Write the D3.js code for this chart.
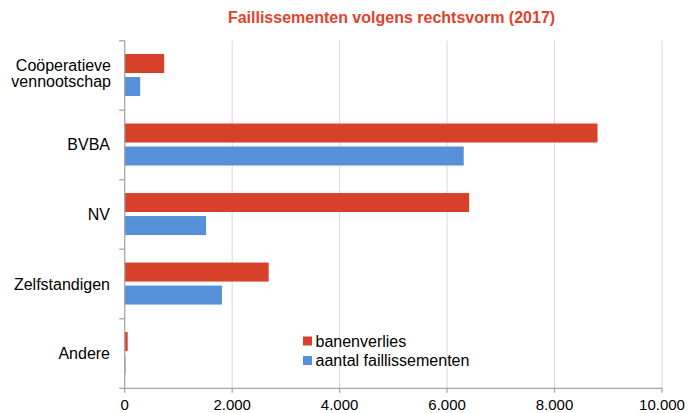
<!DOCTYPE html>
<html>
<head>
<meta charset="utf-8">
<script src="https://cdn.jsdelivr.net/npm/d3@7"></script>
<style>
  body { margin: 0; background: #fff; }
  svg { font-family: "Liberation Sans", Arial, sans-serif; }
</style>
</head>
<body>
<svg id="chart" width="689" height="413"></svg>
<script>
// data
const categories = ['Coöperatieve vennootschap', 'BVBA', 'NV', 'Zelfstandigen', 'Andere'];
const series = ['banenverlies', 'aantal faillissementen'];
const banenverlies = [735, 8800, 6410, 2680, 55];
const aantalFaillissementen = [288, 6310, 1515, 1810, 15];
const xTicks = [0, 2000, 4000, 6000, 8000, 10000];

const colors = { 'banenverlies': '#d84129', 'aantal faillissementen': '#5590d8' };
const plotLeft = 124.7, plotRight = 662, plotTop = 40.7, plotBottom = 388.3;

const nl = d3.formatLocale({ decimal: ',', thousands: '.', grouping: [3], currency: ['€', ''] });
const fmt = nl.format(',d');

const svg = d3.select('#chart');

const x = d3.scaleLinear().domain([0, 10000]).range([plotLeft, plotRight]);
const y0 = d3.scaleBand().domain(categories).range([plotTop, plotBottom]);
const y1 = d3.scaleBand().domain(series).range([13.3, 55.3]).paddingInner(0.174);

const rows = categories.map((c, i) => ({
    cat: c,
    vals: [
        { s: series[0], v: banenverlies[i] },
        { s: series[1], v: aantalFaillissementen[i] }
    ]
}));

// gridlines
svg.append('g').selectAll('line').data(xTicks.filter(d => d > 0)).enter().append('line')
    .attr('x1', d => x(d)).attr('x2', d => x(d))
    .attr('y1', plotTop).attr('y2', plotBottom)
    .attr('stroke', '#d9d9d9').attr('stroke-width', 1);

// bars
const g = svg.append('g').selectAll('g').data(rows).enter().append('g')
    .attr('transform', d => `translate(0,${y0(d.cat)})`);
g.selectAll('rect').data(d => d.vals).enter().append('rect')
    .attr('x', x(0))
    .attr('y', d => y1(d.s))
    .attr('width', d => x(d.v) - x(0))
    .attr('height', y1.bandwidth())
    .attr('fill', d => colors[d.s]);

// axes
const axisColor = '#a6a6a6';
svg.append('line')
    .attr('x1', plotLeft).attr('x2', plotLeft).attr('y1', plotTop).attr('y2', plotBottom)
    .attr('stroke', axisColor).attr('stroke-width', 1.3);
svg.append('line')
    .attr('x1', plotLeft).attr('x2', plotRight).attr('y1', plotBottom).attr('y2', plotBottom)
    .attr('stroke', axisColor).attr('stroke-width', 1.3);

// category boundary ticks
const bounds = categories.map(c => y0(c)).concat([y0.range()[1]]);
svg.append('g').selectAll('line').data(bounds).enter().append('line')
    .attr('x1', plotLeft - 5.5).attr('x2', plotLeft)
    .attr('y1', d => d).attr('y2', d => d)
    .attr('stroke', axisColor).attr('stroke-width', 1.3);

// x ticks
svg.append('g').selectAll('line').data(xTicks).enter().append('line')
    .attr('x1', d => x(d)).attr('x2', d => x(d))
    .attr('y1', plotBottom).attr('y2', plotBottom + 4.5)
    .attr('stroke', axisColor).attr('stroke-width', 1.3);
svg.append('g').selectAll('text').data(xTicks).enter().append('text')
    .attr('x', d => x(d)).attr('y', 409.5)
    .attr('text-anchor', 'middle').attr('font-size', '15px').attr('fill', '#000')
    .text(d => fmt(d));

// category labels
const labels = svg.append('g').selectAll('text').data(categories).enter().append('text')
    .attr('text-anchor', 'end').attr('font-size', '16px').attr('fill', '#000')
    .attr('x', 110)
    .attr('y', d => y0(d) + y0.bandwidth() / 2 + 5.5);
labels.each(function (d) {
    const words = d.split(' ');
    const t = d3.select(this);
    if (words.length > 1) {
        const cy = y0(d) + y0.bandwidth() / 2;
        t.attr('y', null);
        t.append('tspan').attr('x', 111).attr('y', cy - 10 + 5.5).text(words[0]);
        t.append('tspan').attr('x', 111).attr('y', cy + 6.5 + 5.5).text(words[1]);
    } else {
        t.text(d);
    }
});

// title
svg.append('text')
    .attr('x', 391.5).attr('y', 22.5)
    .attr('text-anchor', 'middle').attr('font-size', '16px').attr('font-weight', 'bold')
    .attr('fill', '#e0432b')
    .text('Faillissementen volgens rechtsvorm (2017)');

// legend
const lg = svg.append('g').selectAll('g').data(series).enter().append('g')
    .attr('transform', (d, i) => `translate(303,${341 + i * 19.5})`);
lg.append('rect').attr('x', 0).attr('y', -4.5).attr('width', 9).attr('height', 9)
    .attr('fill', d => colors[d]);
lg.append('text').attr('x', 12.5).attr('y', 5.8)
    .attr('font-size', '16px').attr('fill', '#000')
    .text(d => d);
</script>
</body>
</html>
